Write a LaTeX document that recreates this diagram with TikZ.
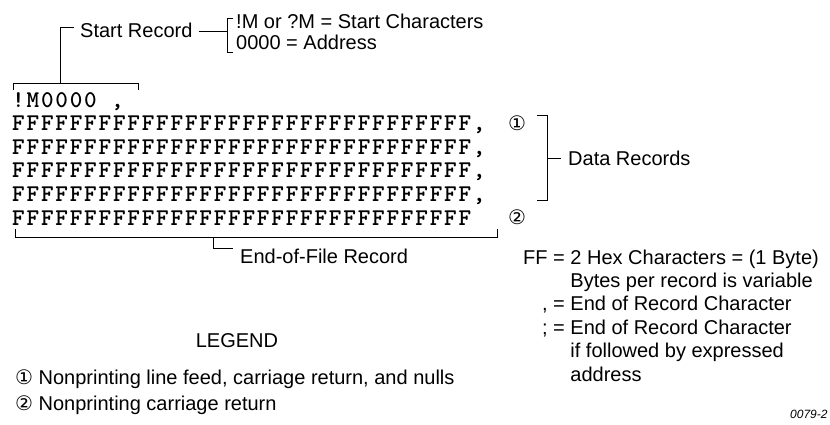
\documentclass[tikz,border=0pt]{standalone}
\usepackage{fontspec}
\setmainfont{Liberation Sans}
\newfontfamily\typewfont[LetterSpace=7.5]{lmmonolt10-bold.otf}
\newfontfamily\symfont{DejaVu Sans}
\usetikzlibrary{positioning, calc}

\begin{document}
\begin{tikzpicture}[x=1pt,y=-1pt,
    lbl/.style={font=\fontsize{20}{23.4}\selectfont, inner sep=0pt, anchor=base west},
    code/.style={font=\typewfont\fontsize{24}{24}\selectfont, inner sep=0pt, anchor=base west},
    brk/.style={line width=0.9pt}]
    \useasboundingbox (0,0) rectangle (830,425);

    \node[lbl] (startrec) at (80,38) {Start Record};
    \node[lbl] (startchr) at (236,29) {!M or ?M = Start Characters};
    \node[lbl] (startadr) at (236,50) {0000 = Address};

    \node[code] (row0) at (12,107.5) {!M0000 ,};
    \foreach \r/\y/\txt in {1/131/{FFFFFFFFFFFFFFFFFFFFFFFFFFFFFFFF,},
                            2/154.5/{FFFFFFFFFFFFFFFFFFFFFFFFFFFFFFFF,},
                            3/178/{FFFFFFFFFFFFFFFFFFFFFFFFFFFFFFFF,},
                            4/201.5/{FFFFFFFFFFFFFFFFFFFFFFFFFFFFFFFF,},
                            5/225/{FFFFFFFFFFFFFFFFFFFFFFFFFFFFFFFF}}{
        \node[code] (row\r) at (12,\y) {\txt};
    }
    \node[lbl, font=\symfont\fontsize{20}{20}\selectfont] (mark1) at (508,130.5) {①};
    \node[lbl, font=\symfont\fontsize{20}{20}\selectfont] (mark2) at (508,224.5) {②};

    \node[lbl] (datarec) at (568,165) {Data Records};
    \node[lbl] (eofrec) at (240,263) {End-of-File Record};

    \node[lbl] (defs) at (523,264) {\begin{tabular}[t]{@{}r@{\ }l@{}}
        FF = & 2 Hex Characters = (1 Byte)\\
             & Bytes per record is variable\\
        , =  & End of Record Character\\
        ; =  & End of Record Character\\
             & if followed by expressed\\
             & address
    \end{tabular}};

    \node[lbl, anchor=base] (legend) at (237,347) {LEGEND};
    \node[lbl] (legend1) at (15,384) {{\symfont ①} Nonprinting line feed, carriage return, and nulls};
    \node[lbl] (legend2) at (15,410) {{\symfont ②} Nonprinting carriage return};
    \node[lbl, font=\itshape\fontsize{12}{12}\selectfont] (figno) at (790,418) {0079-2};

    % brackets
    \coordinate (srcorner) at (60,27);
    \coordinate (srtop) at (60,83);
    \coordinate (scbrk) at (227,31);
    \coordinate (datbrk) at (547,158);
    \coordinate (eofbrk) at (213,237);
    \draw[brk] (13,90) -- (13,83) -- (138,83) -- (138,90);
    \draw[brk] (srtop) -- (srcorner) -- ($(startrec.west |- srcorner)+(-6,0)$);
    \draw[brk] (233,18) -- (227,18) -- (227,52) -- (233,52);
    \draw[brk] ($(startrec.east |- scbrk)+(6,0)$) -- (scbrk);
    \draw[brk] (537,115) -- (547,115) -- (547,200) -- (537,200);
    \draw[brk] (datbrk) -- ($(datarec.west |- datbrk)+(-7,0)$);
    \draw[brk] (15,229) -- (15,237) -- (497,237) -- (497,229);
    \draw[brk] (eofbrk) |- ($(eofrec.west)+(-7,-7)$);
\end{tikzpicture}
\end{document}
